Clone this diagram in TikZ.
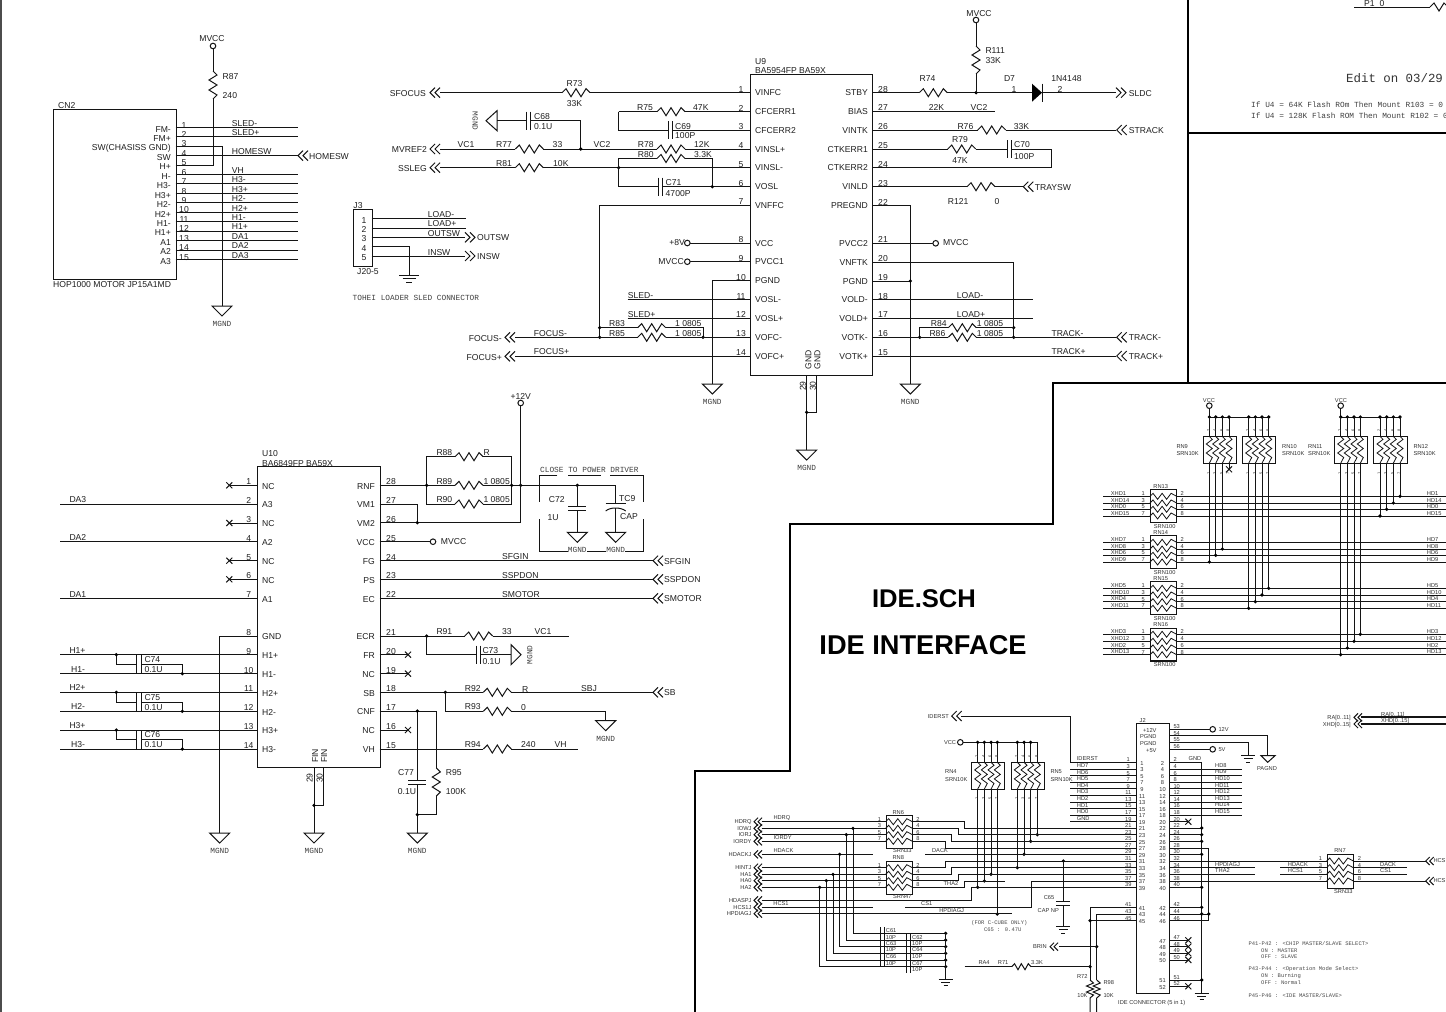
\documentclass[tikz,border=0pt]{standalone}
\usepackage{fontspec}
\setmainfont{Liberation Sans}
\newfontfamily\monof{Liberation Mono}
\newcounter{nc}
\tikzset{
  wire/.style={line width=1pt,black!92,line join=miter},
  thickwire/.style={line width=1.8pt,black!92},
  thin wire/.style={line width=0.8pt,black!92},
  lb/.style={inner sep=0pt,anchor=west,text=black!88,font=\fontsize{8.6}{9}\selectfont,text height=6.2pt,text depth=0pt},
  sm/.style={inner sep=0pt,anchor=west,text=black!80,font=\fontsize{5.7}{6}\selectfont,text height=4.1pt,text depth=0pt},
  mo/.style={inner sep=0pt,anchor=west,text=black!75,font=\monof\fontsize{7.8}{8}\selectfont,text height=4.6pt,text depth=0pt},
  ms/.style={inner sep=0pt,anchor=west,text=black!70,font=\monof\fontsize{5.5}{6}\selectfont,text height=3.4pt,text depth=0pt},
  ic/.style={draw,line width=1.1pt,black!92,inner sep=0pt,anchor=north west},
}
% text
\newcommand\zT[4][]{\stepcounter{nc}\node[lb,#1] (t\thenc) at (#2,#3) {#4};}
\newcommand\zS[4][]{\stepcounter{nc}\node[sm,#1] (t\thenc) at (#2,#3) {#4};}
\newcommand\zM[4][]{\stepcounter{nc}\node[mo,#1] (t\thenc) at (#2,#3) {#4};}
\newcommand\zN[4][]{\stepcounter{nc}\node[ms,#1] (t\thenc) at (#2,#3) {#4};}
% wires and parts
\newcommand\zW[1]{\draw[wire] #1;}
\newcommand\zJ[2]{\fill[black] (#1,#2) circle (1.8);}
\newcommand\zO[2]{\draw[wire,fill=white] (#1,#2) circle (2.8);}
\newcommand\zX[2]{\draw[wire] (#1-3,#2-3)--(#1+3,#2+3) (#1-3,#2+3)--(#1+3,#2-3);}
\newcommand\zRh[2]{\draw[wire,shift={(#1,#2)}] (-14,0)--(-10,-4)--(-5,4)--(0,-4)--(5,4)--(10,-4)--(14,0);}
\newcommand\zRv[2]{\draw[wire,shift={(#1,#2)}] (0,-14)--(4,-10)--(-4,-5)--(4,0)--(-4,5)--(4,10)--(0,14);}
\newcommand\zGp[2]{\draw[wire] (#1-10,#2)--(#1+10,#2)--(#1,#2+10)--cycle;}
\newcommand\zG[2]{\zGp{#1}{#2}\zM[anchor=center]{#1}{#2+18}{MGND}}
\newcommand\zE[2]{\draw[wire] (#1-7,#2)--(#1+7,#2) (#1-4.5,#2+3)--(#1+4.5,#2+3) (#1-2,#2+6.5)--(#1+2,#2+6.5);}
\newcommand\zEb[2]{\draw[wire] (#1-10,#2)--(#1+10,#2) (#1-6.5,#2+3.5)--(#1+6.5,#2+3.5) (#1-3,#2+7)--(#1+3,#2+7);}
\newcommand\zAL[2]{\draw[wire] (#1+5,#2-5)--(#1,#2)--(#1+5,#2+5) (#1+10,#2-5)--(#1+5,#2)--(#1+10,#2+5);}
\newcommand\zAR[2]{\draw[wire] (#1-5,#2-5)--(#1,#2)--(#1-5,#2+5) (#1-10,#2-5)--(#1-5,#2)--(#1-10,#2+5);}
\newcommand\zAl[2]{\draw[wire] (#1+4,#2-4)--(#1,#2)--(#1+4,#2+4) (#1+8,#2-4)--(#1+4,#2)--(#1+8,#2+4);}
% cap with vertical plates (wire horizontal) / horizontal plates
\newcommand\zCh[2]{\draw[wire] (#1,#2-9)--(#1,#2+9) (#1+4.3,#2-9)--(#1+4.3,#2+9);}
\newcommand\zCv[2]{\draw[wire] (#1-9,#2)--(#1+9,#2) (#1-9,#2+4.5)--(#1+9,#2+4.5);}
% resistor network pieces
\newcommand\zZh[2]{\draw[thin wire,shift={(#1,#2)}] (0,0)--(3,-3)--(7.6,3)--(12.1,-3)--(16.6,3)--(21.1,-3)--(26.67,0);}
\newcommand\zZv[2]{\draw[thin wire,shift={(#1,#2)}] (0,0)--(3,3)--(-3,7.6)--(3,12.1)--(-3,16.6)--(3,21.1)--(0,26.8);}
\begin{document}
\begin{tikzpicture}[x=1pt,y=-1pt]
\path[use as bounding box,clip] (0,0) rectangle (1446,1012);
\fill[white] (0,0) rectangle (1446,1012);
\fill[black!70] (0,0) rectangle (2,1012);

% ---------- sheet frame lines
\draw[line width=1.5pt,black] (1188,0)--(1188,383) (1188,133)--(1446,133) (1446,383)--(1053,383)--(1053,524)--(790,524)--(790,771)--(695,771)--(695,1012);
\zT{1364}{3}{P1\_0}
\zW{(1354,7)--(1430,7)}
\draw[wire] (1430,7)--(1434,3)--(1439,11)--(1444,3)--(1448,7);
\zM[font=\monof\fontsize{12.4}{13}\selectfont,text=black!80,text height=7pt]{1346}{79}{Edit on 03/29}
\zM{1251}{105}{If U4 = 64K Flash ROm Then Mount R103 = 0}
\zM{1251}{116}{If U4 = 128K Flash ROM Then Mount R102 = 0}

% ---------- CN2
\node[ic,minimum width=122.6pt,minimum height=169.5pt] (CN2) at (53,109) {};
\zT{58}{105}{CN2}
\zT{53}{284}{HOP1000 MOTOR JP15A1MD}
\foreach \n/\t/\nm in {1/FM-/1,2/FM+/2,3/SW(CHASISS GND)/3,4/SW/4,5/H+/5,6/H-/6,7/H3-/7,8/H3+/8,9/H2-/9,10/H2+/10,11/H1-/11,12/H1+/12,13/A1/13,14/A2/14,15/A3/15}{
  \pgfmathsetmacro\yy{127.3+9.44*(\n-1)}
  \zT[anchor=east]{171}{\yy+1.7}{\t}
  \zT[anchor=center]{184}{\yy-2.4}{\nm}
}
\foreach \n in {1,2,4,6,7,8,9,10,11,12,13,14,15}{
  \pgfmathsetmacro\yy{127.3+9.44*(\n-1)}
  \zW{(175.5,\yy)--(298,\yy)}
}
\zW{(175.5,146.2)--(222,146.2)--(222,306)}
\zW{(175.5,165)--(213,165)--(213,99)} \zRv{213}{85}
\zW{(213,71)--(213,49)} \zO{213}{46}
\zT[anchor=center]{212}{38}{MVCC}
\zT{222.5}{76}{R87} \zT{222.5}{95}{240}
\zG{222}{306}
\zT{231.7}{123}{SLED-} \zT{231.7}{132}{SLED+} \zT{231.7}{151}{HOMESW}
\zT{231.7}{170}{VH} \zT{231.7}{179}{H3-} \zT{231.7}{189}{H3+} \zT{231.7}{198}{H2-}
\zT{231.7}{208}{H2+} \zT{231.7}{217}{H1-} \zT{231.7}{226}{H1+} \zT{231.7}{236}{DA1}
\zT{231.7}{245}{DA2} \zT{231.7}{255}{DA3}
\zAL{298}{155.7} \zT{309}{156}{HOMESW}

% ---------- J3
\node[ic,minimum width=19pt,minimum height=56.4pt] (J3) at (352.7,209.3) {};
\zT[anchor=center]{358}{205}{J3} \zT[anchor=center]{368}{271}{J20-5}
\foreach \n/\yy in {1/220,2/229,3/238,4/248,5/257}{\zT[anchor=center]{364}{\yy}{\n}}
\zW{(371.7,218.7)--(466,218.7) (371.7,228)--(466,228) (371.7,237.3)--(465,237.3) (371.7,256)--(465,256)}
\zW{(371.7,246.7)--(409,246.7)--(409,275)} \zEb{409}{275}
\zT{427.7}{214}{LOAD-} \zT{427.7}{223}{LOAD+} \zT{427.7}{233}{OUTSW} \zT{427.7}{252}{INSW}
\zAR{475}{237.3} \zAR{475}{256}
\zT{477}{237}{OUTSW} \zT{477}{256}{INSW}
\zM{352.5}{298.5}{TOHEI LOADER SLED CONNECTOR}

% ---------- U9
\node[ic,minimum width=122pt,minimum height=301pt] (U9) at (750,74) {};
\zT{755}{61}{U9} \zT{755}{70}{BA5954FP BA59X}
\foreach \n/\yy/\t in {1/92.7/VINFC,2/111.7/CFCERR1,3/130/CFCERR2,4/149/VINSL+,5/167.7/VINSL-,6/186.7/VOSL,7/205/VNFFC,8/243/VCC,9/261.7/PVCC1,10/280.7/PGND,11/299.7/VOSL-,12/318/VOSL+,13/337.3/VOFC-,14/356.3/VOFC+}{
  \zT{755}{\yy}{\t}
  \zT[anchor=center]{741}{\yy-3.7}{\n}
}
\foreach \n/\yy/\t in {28/92.7/STBY,27/111.3/BIAS,26/130/VINTK,25/149/CTKERR1,24/167.7/CTKERR2,23/186.7/VINLD,22/205.7/PREGND,21/243.3/PVCC2,20/262/VNFTK,19/281/PGND,18/299.7/VOLD-,17/318.3/VOLD+,16/337.3/VOTK-,15/356/VOTK+}{
  \zT[anchor=east]{868}{\yy}{\t}
  \zT[anchor=center]{883}{\yy-3.7}{\n}
}
% left side of U9
\zT[anchor=east]{426}{93}{SFOCUS} \zAL{430}{92.7}
\zW{(440,92.7)--(562,92.7) (590,92.7)--(750,92.7)} \zRh{576}{92.7}
\zT[anchor=center]{574.5}{83}{R73} \zT[anchor=center]{574.5}{103}{33K}
\zW{(618.7,111.7)--(657,111.7) (685,111.7)--(750,111.7) (618.7,111.7)--(618.7,130)--(668,130) (672.3,130)--(750,130)}
\zRh{671}{111.7} \zCh{668}{130}
\zT{637}{107}{R75} \zT{693}{107}{47K} \zT{675}{126}{C69} \zT{675}{135}{100P}
\draw[wire] (497,110.7)--(497,130.7)--(486,120.7)--cycle;
\zM[rotate=-90,anchor=center]{475}{121}{MGND}
\zW{(497,120.7)--(526,120.7) (530.3,120.7)--(580.7,120.7)--(580.7,149)}
\zCh{526}{120.7} \zT{534}{116}{C68} \zT{534}{126}{0.1U}
\zT[anchor=east]{427}{149.7}{MVREF2} \zAL{430}{149}
\zW{(440,149)--(515,149) (543,149)--(657,149) (685,149)--(750,149)} \zRh{529.3}{149} \zRh{671}{149} \zJ{580.7}{149}
\zT[anchor=center]{466}{144}{VC1} \zT{496}{144}{R77} \zT[anchor=center]{557.5}{144}{33}
\zT[anchor=center]{602}{144}{VC2} \zT{637.7}{144}{R78} \zT{694}{144}{12K}
\zT[anchor=east]{427}{168.5}{SSLEG} \zAL{430}{167.7}
\zW{(440,167.7)--(515,167.7) (543,167.7)--(750,167.7)} \zRh{529.3}{167.7} \zJ{618.7}{167.7}
\zT{496}{163}{R81} \zT{553}{163}{10K}
\zW{(618.7,186.7)--(618.7,158.5)--(657,158.5) (685,158.5)--(712.3,158.5)--(712.3,186.7) (618.7,186.7)--(658,186.7) (662.3,186.7)--(750,186.7)}
\zRh{671}{158.5} \zCh{658}{186.7} \zJ{712.3}{186.7}
\zT{637.7}{154}{R80} \zT{694}{154}{3.3K} \zT{665.5}{182}{C71} \zT{665.5}{193}{4700P}
\zW{(750,205)--(599.7,205)--(599.7,337.3)} \zJ{599.7}{327.7} \zJ{599.7}{337.3}
\zW{(599.7,327.7)--(637.7,327.7) (665.7,327.7)--(703,327.7)--(703,337.3)} \zRh{651.7}{327.7} \zJ{703}{337.3}
\zW{(515,337.3)--(637.7,337.3) (665.7,337.3)--(750,337.3) (515,356.3)--(750,356.3)} \zRh{651.7}{337.3}
\zT{609}{323}{R83} \zT{675}{323}{1 0805} \zT{609}{333}{R85} \zT{675}{333}{1 0805}
\zT[anchor=east]{502}{338.5}{FOCUS-} \zAL{505}{337.3} \zT{533.7}{333}{FOCUS-}
\zT[anchor=east]{502}{357}{FOCUS+} \zAL{505}{356.3} \zT{533.7}{351}{FOCUS+}
\zT[anchor=east]{685}{242}{+8V} \zW{(690,243)--(750,243)} \zO{687.3}{243}
\zT[anchor=east]{684}{261}{MVCC} \zW{(690,261.7)--(750,261.7)} \zO{687.3}{261.7}
\zW{(750,280.7)--(712.3,280.7)--(712.3,384)} \zG{712.3}{384}
\zW{(627.7,299.7)--(750,299.7) (627.7,318)--(750,318)}
\zT{627.7}{295}{SLED-} \zT{627.7}{314}{SLED+}
% right side of U9
\zW{(872,92.7)--(919.3,92.7) (947.3,92.7)--(1032,92.7) (1042.5,92.7)--(1116,92.7)} \zRh{933.3}{92.7} \zJ{976}{92.7}
\fill[black] (1032,83.7)--(1042,92.7)--(1032,101.7)--cycle; \zW{(1042.5,83.7)--(1042.5,101.7)}
\zAR{1126}{92.7} \zT{1128.7}{93}{SLDC}
\zT[anchor=center]{927.5}{78}{R74} \zT[anchor=center]{1009.5}{78}{D7} \zT[anchor=center]{1014}{89}{1}
\zT[anchor=center]{1066.5}{78}{1N4148} \zT[anchor=center]{1060}{89}{2}
\zO{976}{20} \zW{(976,23)--(976,46) (976,74)--(976,92.7)} \zRv{976}{60}
\zT[anchor=center]{979}{13}{MVCC} \zT{985.3}{50}{R111} \zT{985.3}{60}{33K}
\zW{(872,111.3)--(995.3,111.3)} \zT[anchor=center]{936.5}{107}{22K} \zT[anchor=center]{979}{107}{VC2}
\zW{(872,130)--(977.7,130) (1005.7,130)--(1116,130)} \zRh{991.7}{130} \zAL{1116.7}{130}
\zT{957.3}{126}{R76} \zT{1013.7}{126}{33K} \zT{1128.7}{130}{STRACK}
\zW{(872,149)--(947.7,149) (975.7,149)--(1007.3,149) (1011.6,149)--(1051.3,149)--(1051.3,167.7)--(872,167.7)} \zRh{961.7}{149} \zCh{1007.3}{149}
\zT[anchor=center]{960}{139}{R79} \zT[anchor=center]{960}{160}{47K} \zT{1014}{144}{C70} \zT{1014}{156}{100P}
\zW{(872,186.7)--(967,186.7) (995,186.7)--(1023,186.7)} \zRh{981}{186.7} \zAL{1023.3}{186.7}
\zT{1034.7}{187}{TRAYSW} \zT{947.7}{201}{R121} \zT[anchor=center]{997}{201}{0}
\zW{(872,205.7)--(910.3,205.7)--(910.3,384) (872,281)--(910.3,281)} \zJ{910.3}{281} \zG{910.3}{384}
\zW{(872,243.3)--(933,243.3)} \zO{935.7}{243.3} \zT{943}{242}{MVCC}
\zW{(872,262)--(1013.7,262)--(1013.7,337.3)} \zJ{1013.7}{327.7} \zJ{1013.7}{337.3}
\zW{(872,299.7)--(1033,299.7) (872,318.3)--(1033,318.3)}
\zT[anchor=center]{970}{295}{LOAD-} \zT[anchor=center]{971}{314}{LOAD+}
\zW{(919.7,337.3)--(919.7,327.7)--(948.3,327.7) (976.3,327.7)--(1013.7,327.7)} \zRh{962.3}{327.7} \zJ{919.7}{337.3}
\zW{(872,337.3)--(948.3,337.3) (976.3,337.3)--(1116,337.3) (872,356)--(1116,356)} \zRh{962.3}{337.3}
\zAL{1116.7}{337.3} \zAL{1116.7}{356}
\zT{930.7}{323}{R84} \zT{976.7}{323}{1 0805} \zT{929.3}{333}{R86} \zT{976.7}{333}{1 0805}
\zT{1051.3}{333}{TRACK-} \zT{1128.7}{337.5}{TRACK-} \zT{1051.3}{351}{TRACK+} \zT{1128.7}{356}{TRACK+}
% U9 bottom
\zW{(806.7,375)--(806.7,450) (816.3,375)--(816.3,412.3)--(806.7,412.3)} \zJ{806.7}{412.3} \zG{806.7}{450}
\zT[anchor=center,rotate=90]{802.7}{386}{29} \zT[anchor=center,rotate=90]{812.7}{386}{30}
\zT[anchor=center,rotate=90]{808.3}{360}{GND} \zT[anchor=center,rotate=90]{817.3}{360}{GND}

% ---------- U10
\node[ic,minimum width=122.4pt,minimum height=301pt] (U10) at (257.3,466.3) {};
\zT{262}{453}{U10} \zT{262}{463}{BA6849FP BA59X}
\foreach \n/\yy/\t in {1/485.3/NC,2/504/A3,3/523/NC,4/541.7/A2,5/560.7/NC,6/579.3/NC,7/598.3/A1,8/636/GND,9/654.7/H1+,10/673.7/H1-,11/692.3/H2+,12/711.3/H2-,13/730/H3+,14/749/H3-}{
  \zT{262}{\yy+0.7}{\t}
  \zT[anchor=center]{248.7}{\yy-3.5}{\n}
}
\foreach \n/\yy/\t in {28/485.3/RNF,27/504/VM1,26/522.7/VM2,25/541.7/VCC,24/560.7/FG,23/579.3/PS,22/598.3/EC,21/636/ECR,20/654.7/FR,19/673.7/NC,18/692.3/SB,17/711/CNF,16/730/NC,15/749/VH}{
  \zT[anchor=east]{375}{\yy+0.7}{\t}
  \zT[anchor=center]{391}{\yy-3.5}{\n}
}
\foreach \yy in {485.3,523,560.7,579.3}{\zW{(229.3,\yy)--(257.3,\yy)} \zX{229.3}{\yy}}
\foreach \yy in {654.7,673.7,730}{\zW{(379.7,\yy)--(408,\yy)} \zX{408}{\yy}}
\zW{(60,504)--(257.3,504) (60,541.7)--(257.3,541.7) (60,598.3)--(257.3,598.3)}
\zT{69.3}{499}{DA3} \zT{69.3}{537}{DA2} \zT{69.3}{594}{DA1}
\zW{(257.3,636)--(219.7,636)--(219.7,833)} \zG{219.7}{833}
\foreach \ya/\yb/\ym/\la/\lb/\lc/\ld in {654.7/673.7/664.3/H1+/H1-/C74/0.1U,692.3/711.3/702/H2+/H2-/C75/0.1U,730/749/739.5/H3+/H3-/C76/0.1U}{
  \zW{(60,\ya)--(257.3,\ya) (60,\yb)--(257.3,\yb)}
  \zW{(116.3,\ya)--(116.3,\ym)--(136.7,\ym) (141,\ym)--(182.3,\ym)--(182.3,\yb)}
  \zW{(136.7,\ya)--(136.7,\yb) (141,\ya)--(141,\yb)}
  \zJ{116.3}{\ya} \zJ{182.3}{\yb}
  \zT{69.3}{\ya-4.7}{\la} \zT{71}{\yb-4.7}{\lb}
  \zT{144.3}{\ym-5}{\lc} \zT{144.3}{\ym+5}{\ld}
}
\zW{(314,767.3)--(314,833) (323.3,767.3)--(323.3,805.3)--(314,805.3)} \zJ{314}{805.3} \zG{314}{833}
\zT[anchor=center,rotate=90]{309.5}{778}{29} \zT[anchor=center,rotate=90]{319.5}{778}{30}
\zT[anchor=center,rotate=90]{315}{756}{FIN} \zT[anchor=center,rotate=90]{324}{756}{FIN}
% U10 right
\zW{(379.7,485.3)--(455,485.3) (483,485.3)--(615.7,485.3)} \zRh{469}{485.3}
\zW{(455,456.7)--(426.7,456.7)--(426.7,504)--(455,504) (483,456.7)--(511.7,456.7)--(511.7,504)--(483,504)}
\zRh{469}{456.7} \zRh{469}{504}
\zJ{426.7}{485.3} \zJ{511.7}{485.3} \zJ{520.7}{485.3} \zJ{577.3}{485.3}
\zT{436.3}{452}{R88} \zT{483.3}{452}{R} \zT{436.3}{481}{R89} \zT{483.3}{481}{1 0805} \zT{436.3}{499}{R90} \zT{483.3}{499}{1 0805}
\zO{520.7}{403} \zT[anchor=center]{520.7}{396}{+12V}
\zW{(520.7,406)--(520.7,522.7)--(379.7,522.7) (379.7,504)--(417.3,504)--(417.3,522.7)} \zJ{417.3}{522.7}
\zW{(379.7,541.7)--(430,541.7)} \zO{433}{541.7} \zT{440.7}{541}{MVCC}
\zM{540}{470.5}{CLOSE TO POWER DRIVER}
\zW{(557.3,475.7)--(539.3,475.7)--(539.3,501.7) (568,475.7)--(600.7,475.7) (610,475.7)--(643.3,475.7)--(643.3,501.7) (539.3,519)--(539.3,551)--(643.3,551)--(643.3,519)}
\zW{(577.3,485.3)--(577.3,506) (577.3,510.5)--(577.3,532.3)} \zCv{577.3}{506} \zGp{577.3}{532.3}
\zT[anchor=center]{556.7}{499}{C72} \zT[anchor=center]{553}{517}{1U}
\zW{(615.7,485.3)--(615.7,503.7) (615.7,508)--(615.7,532.3)}
\draw[wire] (605.7,503.7)--(625.7,503.7); \draw[wire] (605.7,511) .. controls (610,507) and (621,507) .. (625.7,511);
\zGp{615.7}{532.3}
\zT{619}{498}{TC9} \zT{620}{516}{CAP}
\zM[anchor=center,fill=white]{577.3}{550}{MGND} \zM[anchor=center,fill=white]{615.7}{550}{MGND}
\zW{(379.7,560.7)--(653,560.7) (379.7,579.3)--(653,579.3) (379.7,598.3)--(653,598.3)}
\zAL{653}{560.7} \zAL{653}{579.3} \zAL{653}{598.3}
\zT{502}{556}{SFGIN} \zT{502}{575}{SSPDON} \zT{502}{594}{SMOTOR}
\zT{664}{561}{SFGIN} \zT{664}{579.5}{SSPDON} \zT{664}{598}{SMOTOR}
\zW{(379.7,636)--(464.7,636) (492.7,636)--(568.7,636)} \zRh{478.7}{636} \zJ{426.7}{636}
\zT{436.3}{631}{R91} \zT{502}{631}{33} \zT[anchor=center]{543}{631}{VC1}
\zW{(426.7,636)--(426.7,654.7)--(476,654.7) (480.3,654.7)--(511,654.7)} \zCh{476}{654.7}
\draw[wire] (511,644.7)--(511,664.7)--(521,654.7)--cycle;
\zM[rotate=90,anchor=center]{530}{654.7}{MGND}
\zT{482.3}{650}{C73} \zT{482.3}{661}{0.1U}
\zW{(379.7,692.3)--(483.3,692.3) (511.3,692.3)--(653,692.3)} \zRh{497.3}{692.3} \zJ{445.3}{692.3} \zAL{653}{692.3}
\zT{464.7}{688}{R92} \zT{522}{689}{R} \zT{581}{688}{SBJ} \zT{664}{692.5}{SB}
\zW{(445.3,692.3)--(445.3,711.3)--(483.3,711.3) (511.3,711.3)--(605.7,711.3)--(605.7,720.7)} \zRh{497.3}{711.3} \zG{605.7}{720.7}
\zT{464.7}{706}{R93} \zT{521}{707}{0}
\zW{(379.7,711)--(436.3,711)--(436.3,768) (436.3,796)--(436.3,814.7)--(417.3,814.7) (417.3,711)--(417.3,780) (417.3,784.5)--(417.3,833)}
\zRv{436.3}{782} \zCv{417.3}{780} \zJ{417.3}{711} \zJ{417.3}{814.7} \zG{417.3}{833}
\zT[anchor=center]{406}{772}{C77} \zT[anchor=center]{407}{791}{0.1U} \zT{445.7}{772}{R95} \zT{445.7}{791}{100K}
\zW{(379.7,749)--(483.3,749) (511.3,749)--(577.7,749)} \zRh{497.3}{749}
\zT{464.7}{744}{R94} \zT{521}{744}{240} \zT[anchor=center]{560.7}{744}{VH}

% ---------- centre title
\zT[anchor=center,font=\bfseries\fontsize{25.6}{26}\selectfont,text=black,text height=18pt]{924}{598}{IDE.SCH}
\zT[anchor=center,font=\bfseries\fontsize{27.2}{28}\selectfont,text=black,text height=19pt]{923}{645}{IDE INTERFACE}

% ---------- RN9..RN12 pull-ups
\zO{1209.3}{405.7} \zS[anchor=center]{1209}{400}{VCC}
\zO{1340.7}{405.7} \zS[anchor=center]{1341}{400}{VCC}
\zW{(1209.3,408.5)--(1209.3,417)--(1268.7,417) (1340.7,408.5)--(1340.7,417)--(1400,417)}
\node[ic,minimum width=33pt,minimum height=27pt] (RN9) at (1202.7,436.3) {};
\node[ic,minimum width=33.3pt,minimum height=27pt] (RN10) at (1242,436.3) {};
\node[ic,minimum width=33pt,minimum height=27pt] (RN11) at (1334.3,436.3) {};
\node[ic,minimum width=33.4pt,minimum height=27pt] (RN12) at (1373.3,436.3) {};
\foreach \xx in {1209.3,1215.7,1222.3,1229,1248.7,1255.3,1262,1268.7,1340.7,1347.3,1354,1360.3,1380,1386.7,1393.3,1400}{
  \zJ{\xx}{417}
  \zW{(\xx,417)--(\xx,436.3)}
  \zZv{\xx}{436.4}
}
\foreach \xa/\xb/\xc/\xd in {1209.3/1215.7/1222.3/1229,1248.7/1255.3/1262/1268.7,1340.7/1347.3/1354/1360.3,1380/1386.7/1393.3/1400}{
  \zS[anchor=center,rotate=90,font=\fontsize{4}{4}\selectfont]{\xa-1.6}{430.7}{2}
  \zS[anchor=center,rotate=90,font=\fontsize{4}{4}\selectfont]{\xb-1.6}{430.7}{4}
  \zS[anchor=center,rotate=90,font=\fontsize{4}{4}\selectfont]{\xc-1.6}{430.7}{6}
  \zS[anchor=center,rotate=90,font=\fontsize{4}{4}\selectfont]{\xd-1.6}{430.7}{8}
  \zS[anchor=center,rotate=90,font=\fontsize{4}{4}\selectfont]{\xa-1.6}{473.3}{1}
  \zS[anchor=center,rotate=90,font=\fontsize{4}{4}\selectfont]{\xb-1.6}{473.3}{3}
  \zS[anchor=center,rotate=90,font=\fontsize{4}{4}\selectfont]{\xc-1.6}{473.3}{5}
  \zS[anchor=center,rotate=90,font=\fontsize{4}{4}\selectfont]{\xd-1.6}{473.3}{7}
}
\zS{1176.3}{446.3}{RN9} \zS{1176.3}{453.7}{SRN10K}
\zS{1282}{446.3}{RN10} \zS{1282}{453.7}{SRN10K}
\zS{1308}{446.3}{RN11} \zS{1308}{453.7}{SRN10K}
\zS{1413.3}{446.3}{RN12} \zS{1413.3}{453.7}{SRN10K}
% series networks RN13..RN16
\foreach \top/\ra/\rb/\rc/\rd/\nm/\la/\lb/\lc/\ld in {
 489.3/496.3/503/509.3/516/RN13/1/14/0/15,
 535.3/542.3/549/555.3/562/RN14/7/8/6/9,
 581.3/588.3/595/601.7/608.3/RN15/5/10/4/11,
 627.7/634.3/641.3/648/654.7/RN16/3/12/2/13}{
  \node[ic,minimum width=26.3pt,minimum height=32.7pt] (\nm) at (1150,\top) {};
  \zS[anchor=center]{1160.7}{\top-2.8}{\nm}
  \zS[anchor=center]{1164.7}{\top+37.2}{SRN100}
  \foreach \yy/\p/\q/\ll in {\ra/1/2/\la,\rb/3/4/\lb,\rc/5/6/\lc,\rd/7/8/\ld}{
    \zW{(1103.3,\yy)--(1150,\yy) (1176.3,\yy)--(1446,\yy)}
    \zZh{1150}{\yy}
    \zS{1110.7}{\yy-3}{XHD\ll}
    \zS{1426.7}{\yy-3}{HD\ll}
    \zS[anchor=center]{1143.3}{\yy-2.4}{\p}
    \zS[anchor=center]{1182.3}{\yy-2.4}{\q}
  }
}
\foreach \xx/\yy in {1209.3/562,1215.7/555.3,1222.3/549,1248.7/608.3,1255.3/601.7,1262/595,1268.7/588.3,1340.7/654.7,1347.3/648,1354/641.3,1360.3/634.3,1380/516,1386.7/509.3,1393.3/503,1400/496.3}{
  \zW{(\xx,463.3)--(\xx,\yy)} \zJ{\xx}{\yy}
}
\zW{(1229,463.3)--(1229,469.3)} \zX{1229}{469.3}

% ---------- J2
\node[ic,minimum width=33.3pt,minimum height=270pt] (J2) at (1136,722.7) {};
\zS[anchor=center]{1142.7}{720}{J2}
\foreach \yy/\t/\nm in {729.3/+12V/53,735.7/PGND/54,742.3/PGND/55,749.3/+5V/56}{
  \zS[anchor=east]{1156.7}{\yy+0.7}{\t}
  \zS[anchor=center]{1176.7}{\yy-2.4}{\nm}
}
\zW{(1169.3,729.3)--(1210,729.3) (1169.3,749.3)--(1210,749.3)} \zO{1212.7}{729.3} \zO{1212.7}{749.3}
\zS{1218.3}{729.3}{12V} \zS{1218.3}{749.3}{5V}
\zW{(1169.3,735.7)--(1267.7,735.7)--(1267.7,755.7) (1169.3,742.3)--(1248,742.3)--(1248,755.7)}
\zE{1248}{755.7}
\draw[wire] (1261,755.7)--(1275,755.7)--(1267.7,762.3)--cycle;
\zS[anchor=center]{1267}{768}{PAGND}
\foreach \n/\yy in {1/762.3,3/769,5/775.7,7/782,9/788.7,11/795.3,13/802,15/808.3,17/815,19/821.7,21/828,23/834.7,25/841.3,27/848,29/854.3,31/861,33/867.7,35/874.3,37/881,39/887.3,41/907.3,43/914,45/920.7}{
  \zS[anchor=center]{1142}{\yy+0.7}{\n}
  \zS[anchor=center]{1128.3}{\yy-2.4}{\n}
}
\foreach \n/\yy in {2/762.3,4/769,6/775.7,8/782,10/788.7,12/795.3,14/802,16/808.3,18/815,20/821.7,22/828,24/834.7,26/841.3,28/848,30/854.3,32/861,34/867.7,36/874.3,38/881,40/887.3,42/907.3,44/914,46/920.7,47/940.3,48/946.7,49/953.3,50/960,51/980,52/986.3}{
  \zS[anchor=center]{1162.5}{\yy+0.7}{\n}
  \zS{1173.3}{\yy-2.4}{\n}
}
% left side rows
\zAL{951.7}{716} \zW{(961,716)--(1070.3,716)--(1070.3,762.3)--(1136,762.3)}
\zS[anchor=east]{949}{716.7}{IDERST}
\foreach \yy/\t/\ly in {769/HD7/765.3,775.7/HD6/772,782/HD5/778.7,788.7/HD4/785,795.3/HD3/791.7,802/HD2/798.7,808.3/HD1/805.3,815/HD0/811.7,821.7/GND/818}{
  \zW{(1070.3,\yy)--(1136,\yy)}
  \zS{1076.7}{\ly}{\t}
}
\zS{1076.7}{758.7}{IDERST}
% RN4 RN5
\zS[anchor=east]{956.3}{742.7}{VCC} \zO{960.3}{742.3} \zW{(963,742.3)--(1037.3,742.3)}
\node[ic,minimum width=33pt,minimum height=26.7pt] (RN4) at (971.3,762.3) {};
\node[ic,minimum width=33.3pt,minimum height=26.7pt] (RN5) at (1010.7,762.3) {};
\foreach \xx in {977.7,984.3,991,997.3,1017.3,1024,1030.7,1037.3}{
  \zW{(\xx,742.3)--(\xx,762.3)} \zZv{\xx}{762.3}
}
\foreach \xx in {977.7,984.3,991,997.3,1017.3,1024,1030.7}{\zJ{\xx}{742.3}}
\foreach \xa/\xb/\xc/\xd in {977.7/984.3/991/997.3,1017.3/1024/1030.7/1037.3}{
  \zS[anchor=center,rotate=90,font=\fontsize{4}{4}\selectfont]{\xa-1.6}{756.5}{2}
  \zS[anchor=center,rotate=90,font=\fontsize{4}{4}\selectfont]{\xb-1.6}{756.5}{4}
  \zS[anchor=center,rotate=90,font=\fontsize{4}{4}\selectfont]{\xc-1.6}{756.5}{6}
  \zS[anchor=center,rotate=90,font=\fontsize{4}{4}\selectfont]{\xd-1.6}{756.5}{8}
  \zS[anchor=center,rotate=90,font=\fontsize{4}{4}\selectfont]{\xa-1.6}{798.5}{1}
  \zS[anchor=center,rotate=90,font=\fontsize{4}{4}\selectfont]{\xb-1.6}{798.5}{3}
  \zS[anchor=center,rotate=90,font=\fontsize{4}{4}\selectfont]{\xc-1.6}{798.5}{5}
  \zS[anchor=center,rotate=90,font=\fontsize{4}{4}\selectfont]{\xd-1.6}{798.5}{7}
}
\zS{945}{771.7}{RN4} \zS{945}{779}{SRN10K}
\zS{1050.3}{771.7}{RN5} \zS{1050.3}{779}{SRN10K}
\foreach \xx/\yy in {977.7/887.3,984.3/881,991/874.3,997.3/914,1017.3/867.7,1024/854.3,1030.7/841.3,1037.3/834.7}{
  \zW{(\xx,789)--(\xx,\yy)} \zJ{\xx}{\yy}
}
% RN6 RN8
\node[ic,minimum width=26.6pt,minimum height=32.7pt] (RN6) at (885.7,815) {};
\node[ic,minimum width=26.6pt,minimum height=32.7pt] (RN8) at (885.7,861) {};
\zS[anchor=center]{898.3}{812}{RN6} \zS[anchor=center]{902.3}{850.7}{SRN33}
\zS[anchor=center]{898.3}{857.7}{RN8} \zS[anchor=center]{902.3}{896.7}{SRN47}
\foreach \yy/\ly/\p/\q/\t in {821.7/1/1/2/HDRQ,828.3/2/3/4/IOWJ,834.7/3/5/6/IORJ,841.3/4/7/8/IORDY,867.7/5/1/2/HINTJ,874.3/6/3/4/HA1,880.7/7/5/6/HA0,887.3/8/7/8/HA2}{
  \zZh{885.7}{\yy}
  \zW{(761.7,\yy)--(885.7,\yy)}
  \zAl{754}{\yy}
  \zS[anchor=east]{751.7}{\yy}{\t}
  \zS[anchor=center]{879.5}{\yy-2.4}{\p}
  \zS[anchor=center]{918}{\yy-2.4}{\q}
}
\zS{773.3}{817.7}{HDRQ} \zS{773.3}{837.7}{IORDY}
\foreach \yy/\t in {854.3/HDACKJ,900.3/HDASPJ,907.3/HCS1J,913.7/HPDIAGJ}{\zAl{754}{\yy} \zS[anchor=east]{751.7}{\yy}{\t}}
\zW{(761.7,854.3)--(873.3,854.3) (925.3,854.3)--(1136,854.3)}
\zS{773.3}{850.7}{HDACK} \zS[anchor=center]{940}{850.7}{DACK}
\zW{(912.3,821.7)--(964.7,821.7)--(964.7,828)--(1136,828)}
\zW{(912.3,828.3)--(958.3,828.3)--(958.3,834.7)--(1136,834.7)}
\zW{(912.3,834.7)--(951.7,834.7)--(951.7,841.3)--(1136,841.3)}
\zW{(912.3,841.3)--(945,841.3)--(945,848)--(1136,848)}
\zW{(912.3,867.7)--(945,867.7)--(945,861)--(1136,861)}
\zW{(912.3,874.3)--(951.7,874.3)--(951.7,867.7)--(1136,867.7)}
\zW{(912.3,880.7)--(958.3,880.7)--(958.3,874.3)--(1136,874.3)}
\zW{(912.3,887.3)--(964.7,887.3)--(964.7,881)--(1005,881)}
\zS[anchor=center]{951}{883.3}{THA2}
\zW{(1136,881)--(1031,881)--(1031,907.3)--(905,907.3)}
\zS[anchor=center]{926.7}{903.7}{CS1}
\zW{(761.7,907.3)--(873.3,907.3)} \zS[anchor=center]{781}{903.7}{HCS1}
\zW{(761.7,900.3)--(971.7,900.3)--(971.7,887.3)--(1136,887.3)}
\zW{(761.7,913.7)--(1011.7,913.7)} \zS[anchor=center]{951.7}{910.7}{HPDIAGJ}
\foreach \yy/\xx in {933.3/853,940/846.3,946.7/839.7,953.3/833,960/826.3,966.7/819.7}{
  \zW{(\xx,\yy)--(945.7,\yy)} \zJ{945.7}{\yy}
}
\foreach \xx/\ya/\yb in {853/828.3/933.3,846.3/834.7/940,839.7/854.3/946.7,833/874.3/953.3,826.3/880.7/960,819.7/887.3/966.7}{
  \zW{(\xx,\ya)--(\xx,\yb)} \zJ{\xx}{\ya}
}
\zW{(880.3,927.3)--(880.3,966) (884,927.3)--(884,966) (906.7,933.3)--(906.7,972.7) (910.7,933.3)--(910.7,972.7)}
\zS{885.7}{930}{C61} \zS{885.7}{937}{10P} \zS{885.7}{943.7}{C63} \zS{885.7}{949.7}{10P} \zS{885.7}{956.7}{C66} \zS{885.7}{963}{10P}
\zS{912}{937}{C62} \zS{912}{943.7}{10P} \zS{912}{949.7}{C64} \zS{912}{956.7}{10P} \zS{912}{963}{C67} \zS{912}{969.7}{10P}
\zW{(945.7,933.3)--(945.7,979.3)} \zE{945.7}{979.3}
% C65
\zJ{1063.3}{861} \zW{(1063.3,861)--(1063.3,901.3) (1063.3,905)--(1063.3,926.7)} \zE{1063.3}{926.7}
\draw[wire] (1056.3,901.3)--(1070.3,901.3) (1056.3,905)--(1070.3,905);
\zS[anchor=center]{1049}{897}{C65} \zS[anchor=center]{1048.3}{910.7}{CAP NP}
\zN[anchor=center]{999.3}{922.7}{(FOR C-CUBE ONLY)} \zN[anchor=center]{1002.7}{930}{C65 : 0.47U}
% J2 lower-left
\zW{(1136,907.3)--(1090,907.3)--(1090,980) (1136,920.7)--(1090,920.7) (1136,914)--(1096.7,914)--(1096.7,980)}
\zJ{1090}{920.7} \zJ{1096.7}{946.7} \zJ{1090}{966.7}
\zAl{1050}{946.7} \zS[anchor=east]{1047}{946.7}{BRIN}
\zW{(1059,946.7)--(1096.7,946.7)}
\zW{(964.7,966.7)--(1011.7,966.7) (1031,966.7)--(1090,966.7)}
\draw[wire] (1011.7,966.7)--(1014.5,963.7)--(1018,969.7)--(1021.3,963.7)--(1025,969.7)--(1028.3,963.7)--(1031,966.7);
\zS{978.3}{962.7}{RA4} \zS{997.7}{962.7}{R71} \zS{1031}{962.7}{3.3K}
\foreach \xx in {1090,1096.7}{
  \draw[wire] (\xx,980)--(\xx+3.5,983)--(\xx-3.5,986)--(\xx+3.5,989)--(\xx-3.5,992)--(\xx+3.5,995)--(\xx,998)--(\xx,1012);
}
\zS[anchor=east]{1087.7}{976.7}{R72} \zS[anchor=east]{1087.7}{995.7}{10K}
\zS{1103.3}{982.7}{R98} \zS{1103.3}{995.7}{10K}
\zS[anchor=center]{1151.7}{1002.7}{IDE CONNECTOR (5 in 1)}
% J2 right side rows
\zW{(1169.3,762.3)--(1201.7,762.3)--(1201.7,993)}
\zS[anchor=center]{1195}{758.7}{GND}
\zE{1201.7}{993}
\foreach \yy/\t/\ly in {769/HD8/765.3,775.7/HD9/771.3,782/HD10/778.7,788.7/HD11/785,795.3/HD12/791.7,802/HD13/798.7,808.3/HD14/804.7,815/HD15/811.7}{
  \zW{(1169.3,\yy)--(1242,\yy)}
  \zS{1215}{\ly}{\t}
}
\foreach \yy in {828,834.7,841.3,854.3,887.3,907.3,914,980}{
  \zW{(1169.3,\yy)--(1201.7,\yy)} \zJ{1201.7}{\yy}
}
\foreach \yy in {821.7,940.3,946.7,953.3,960,986.3}{
  \zW{(1169.3,\yy)--(1188.3,\yy)} \zX{1188.3}{\yy}
}
\zW{(1169.3,848)--(1208.7,848)--(1208.7,920.7)--(1169.3,920.7) (1201.7,914)--(1208.7,914)} \zJ{1208.7}{914}
\zW{(1169.3,867.7)--(1255,867.7) (1169.3,874.3)--(1255,874.3)}
\zS{1215}{864.3}{HPDIAGJ} \zS{1215}{870.7}{THA2}
% RN7
\node[ic,minimum width=26.6pt,minimum height=33.4pt] (RN7) at (1326.7,854.3) {};
\zS[anchor=center]{1340}{850.7}{RN7} \zS[anchor=center]{1343.3}{891}{SRN33}
\zW{(1169.3,861)--(1326.7,861) (1169.3,881)--(1326.7,881) (1280,867.7)--(1326.7,867.7) (1280,874.3)--(1326.7,874.3)}
\zW{(1353.3,861)--(1425.7,861) (1353.3,881)--(1425.7,881) (1353.3,867.7)--(1406.7,867.7) (1353.3,874.3)--(1406.7,874.3)}
\foreach \yy/\p/\q in {861/1/2,867.7/3/4,874.3/5/6,881/7/8}{
  \zZh{1326.7}{\yy}
  \zS[anchor=center]{1320.5}{\yy-2.4}{\p}
  \zS[anchor=center]{1359.5}{\yy-2.4}{\q}
}
\zS{1287.7}{864.7}{HDACK} \zS{1287.7}{870.7}{HCS1} \zS{1380}{864.7}{DACK} \zS{1380}{870.7}{CS1}
\zAl{1425.7}{861} \zAl{1425.7}{881}
\zS{1433.3}{860.7}{HCS} \zS{1433.3}{880.7}{HCS}
% RA / XHD buses
\draw[thickwire] (1360.7,717.3)--(1446,717.3) (1360.7,724)--(1446,724);
\zAl{1354}{717.3} \zAl{1354}{724}
\zS[anchor=east]{1351}{717.7}{RA[0..11]} \zS[anchor=east]{1351}{724.7}{XHD[0..15]}
\zS{1381}{714}{RA[0..11]} \zS{1381}{720.7}{XHD[0..15]}
% notes
\zN{1248.3}{943.3}{P41-P42 : <CHIP MASTER/SLAVE SELECT>}
\zN{1261}{950.3}{ON : MASTER} \zN{1261}{956.3}{OFF : SLAVE}
\zN{1248.3}{969}{P43-P44 : <Operation Mode Select>}
\zN{1261}{976}{ON : Burning} \zN{1261}{983}{OFF : Normal}
\zN{1248.3}{996}{P45-P46 : <IDE MASTER/SLAVE>}
\end{tikzpicture}
\end{document}
